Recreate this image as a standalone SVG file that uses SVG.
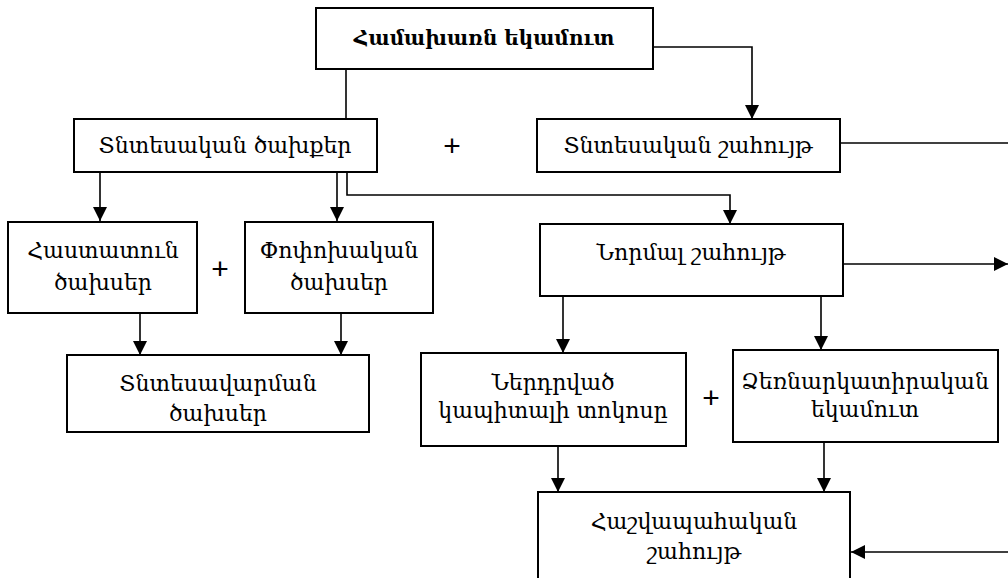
<svg xmlns="http://www.w3.org/2000/svg" width="1008" height="578" viewBox="0 0 1008 578">
<style>
.box{fill:#fff;stroke:#000;stroke-width:2}
.t{font-family:"DejaVu Serif","DejaVu Sans",serif;font-size:22px;fill:#000;text-anchor:middle}
.b{font-weight:bold;font-size:20px}
.c{fill:none;stroke:#000;stroke-width:1.6}
.plus{font-family:"Liberation Sans",sans-serif;font-size:30px;text-anchor:middle;fill:#000}
</style>
<defs>
<marker id="ah" markerUnits="userSpaceOnUse" markerWidth="14" markerHeight="14" viewBox="0 0 14 14" refX="14" refY="7" orient="auto">
<path d="M0,0 L14,7 L0,14 z" fill="#000"/>
</marker>
</defs>
<rect width="1008" height="578" fill="#fff"/>
<g id="connectors">
<path class="c" d="M346,69 V119"/>
<path class="c" d="M653,47 H752 V119" marker-end="url(#ah)"/>
<path class="c" d="M100,172 V221" marker-end="url(#ah)"/>
<path class="c" d="M337,172 V221" marker-end="url(#ah)"/>
<path class="c" d="M347,172 V195 H730 V224" marker-end="url(#ah)"/>
<path class="c" d="M840,143 H1008"/>
<path class="c" d="M843,264 H1008" marker-end="url(#ah)"/>
<path class="c" d="M563,296 V353" marker-end="url(#ah)"/>
<path class="c" d="M821,296 V350" marker-end="url(#ah)"/>
<path class="c" d="M140,313 V355" marker-end="url(#ah)"/>
<path class="c" d="M341,313 V355" marker-end="url(#ah)"/>
<path class="c" d="M558,446 V492" marker-end="url(#ah)"/>
<path class="c" d="M824,442 V492" marker-end="url(#ah)"/>
<path class="c" d="M1008,552 H851" marker-end="url(#ah)"/>
</g>
<g id="n-hamakharn">
<rect class="box" x="316" y="8" width="337" height="61"/>
<text class="t b" x="484" y="45">Համախառն եկամուտ</text>
</g>
<g id="n-tnt-dakhser">
<rect class="box" x="74" y="119" width="303" height="53"/>
<text class="t" x="225" y="153">Տնտեսական ծախքեր</text>
</g>
<text class="plus" x="452" y="156">+</text>
<g id="n-tnt-shahuyt">
<rect class="box" x="537" y="119" width="303" height="53"/>
<text class="t" x="688" y="153">Տնտեսական շահույթ</text>
</g>
<g id="n-normal">
<rect class="box" x="540" y="224" width="303" height="72"/>
<text class="t" x="691" y="260">Նորմալ շահույթ</text>
</g>
<g id="n-hastatun">
<rect class="box" x="8" y="222" width="189" height="91"/>
<text class="t" x="103" y="258">Հաստատուն</text>
<text class="t" x="103" y="290">ծախսեր</text>
</g>
<text class="plus" x="220" y="279">+</text>
<g id="n-popokh">
<rect class="box" x="245" y="222" width="188" height="91"/>
<text class="t" x="339" y="258">Փոփոխական</text>
<text class="t" x="339" y="290">ծախսեր</text>
</g>
<g id="n-tntesavarman">
<rect class="box" x="67" y="355" width="302" height="77"/>
<text class="t" x="218" y="391">Տնտեսավարման</text>
<text class="t" x="218" y="421">ծախսեր</text>
</g>
<g id="n-nerdrvac">
<rect class="box" x="421" y="353" width="265" height="93"/>
<text class="t" x="553" y="390">Ներդրված</text>
<text class="t" x="553" y="418">կապիտալի տոկոսը</text>
</g>
<text class="plus" x="711" y="408">+</text>
<g id="n-dzernarkatirakan">
<rect class="box" x="733" y="350" width="265" height="92"/>
<text class="t" x="865" y="389">Ձեռնարկատիրական</text>
<text class="t" x="865" y="417">եկամուտ</text>
</g>
<g id="n-hashvapahakan">
<rect class="box" x="538" y="492" width="312" height="100"/>
<text class="t" x="694" y="529">Հաշվապահական</text>
<text class="t" x="694" y="559">շահույթ</text>
</g>
</svg>
